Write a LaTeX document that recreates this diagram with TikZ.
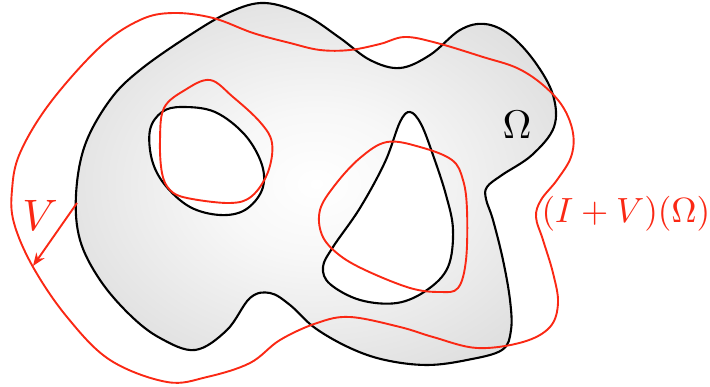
\documentclass[tikz,border=0pt]{standalone}
\usetikzlibrary{arrows.meta}
\definecolor{vred}{RGB}{250,40,20}
\pgfdeclareradialshading{omegashade}{\pgfpoint{0bp}{0bp}}{color(0bp)=(white); color(10bp)=(white!97!black); color(40bp)=(white!82!black); color(50bp)=(white!79!black)}
\tikzset{
  blackline/.style={line width=2.1pt, black},
  redline/.style={line width=1.9pt, vred},
  lbl/.style={inner sep=0pt}
}
\begin{document}
\begin{tikzpicture}[x=1pt,y=-1pt]
\useasboundingbox (0,0) rectangle (710,387);
% outer boundary of Omega
\def\outer{plot[smooth cycle, tension=0.6] coordinates {
 (265,3) (305,15) (340,38) (370,60) (400,68) (430,55) (460,30) (485,24) (510,35) (535,62) (553,95) (554,127) (532,155) (502,175) (487,187) (486,199) (493,220) (503,260) (510,300) (511,330) (502,350) (467,360) (427,365) (385,360) (350,348) (315,328) (290,305) (270,293) (250,298) (227,330) (195,350) (160,338) (130,315) (100,280) (80,240) (76,195) (85,145) (110,100) (140,70) (190,35) (230,12)}}
\def\holeA{plot[smooth cycle, tension=0.6] coordinates {
 (182,107) (215,112) (245,135) (262,165) (262,190) (245,210) (220,215) (190,207) (165,185) (152,160) (150,130) (162,112)}}
\def\holeB{plot[smooth cycle, tension=0.6] coordinates {
 (410,112) (421,124) (433,155) (446,195) (453,230) (448,267) (427,290) (397,303) (360,300) (330,284) (323,267) (333,247) (360,208) (385,162) (400,122)}}
\shade[shading=omegashade] \outer;
\fill[white] \holeA;
\fill[white] \holeB;
\draw[blackline] \outer;
\draw[blackline] \holeA;
\draw[blackline] \holeB;
% deformed domain
\draw[redline] plot[smooth cycle, tension=0.6] coordinates {
 (173,13) (213,18) (253,33) (290,43) (320,50) (350,50) (380,44) (405,37) (437,43) (483,57) (517,68) (543,85) (563,107) (573,133) (571,157) (557,180) (541,200) (536,217) (543,240) (553,273) (558,303) (550,327) (523,342) (477,348) (433,337) (400,327) (350,317) (317,323) (280,340) (250,363) (207,377) (167,382) (110,360) (67,317) (33,267) (14,223) (12,190) (20,153) (50,103) (100,47) (140,20)};
\draw[redline] plot[smooth cycle, tension=0.6] coordinates {
 (210,80) (233,97) (260,122) (272,143) (268,172) (252,196) (230,203) (187,198) (170,190) (162,173) (160,140) (164,108) (185,90)};
\draw[redline] plot[smooth cycle, tension=0.6] coordinates {
 (387,142) (420,147) (452,160) (463,180) (467,210) (466,260) (458,288) (440,292) (410,288) (365,270) (338,254) (322,235) (320,210) (335,185) (360,158)};
% vector field arrow
\coordinate (vstart) at (77,203);
\coordinate (vend) at (33,266);
\draw[redline, -{Stealth[length=13pt,width=10pt]}] (vstart) -- (vend);
\node[lbl, text=vred, scale=4.4] (vlabel) at (40,215) {$V$};
\node[lbl, scale=4] (omega) at (517,125) {$\Omega$};
\node[lbl, text=vred, scale=3.5] (deformed) at (626,214) {$(I+V)(\Omega)$};
\end{tikzpicture}
\end{document}
